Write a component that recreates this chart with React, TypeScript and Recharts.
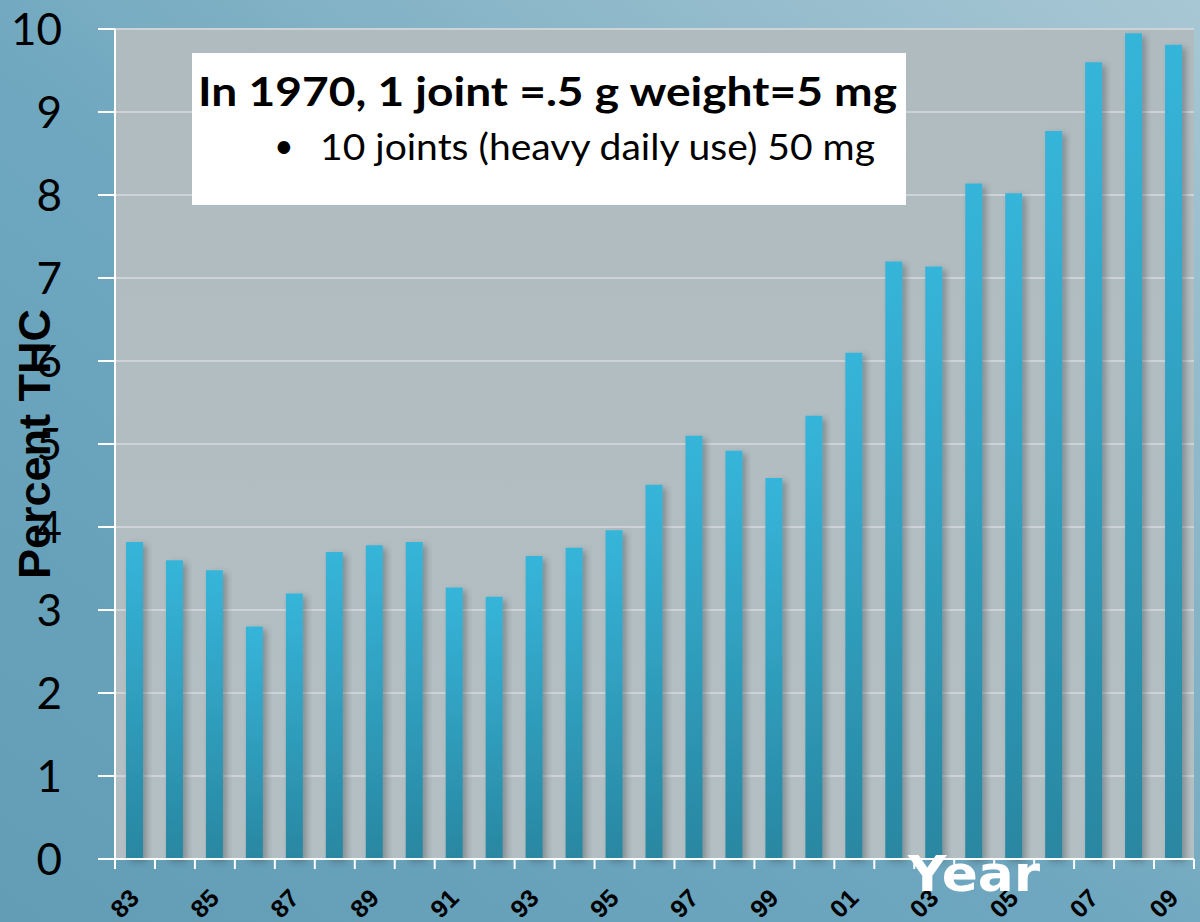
import React from "react"
import { BarChart, Bar, XAxis, YAxis, CartesianGrid, Label } from "recharts"

const years = ["83", "84", "85", "86", "87", "88", "89", "90", "91", "92", "93", "94", "95", "96", "97", "98", "99", "00", "01", "02", "03", "04", "05", "06", "07", "08", "09"]
const thc = [3.82, 3.6, 3.48, 2.8, 3.2, 3.7, 3.78, 3.82, 3.27, 3.16, 3.65, 3.75, 3.96, 4.51, 5.1, 4.92, 4.59, 5.34, 6.1, 7.2, 7.14, 8.14, 8.02, 8.77, 9.6, 9.95, 9.81]
const yTicks = [0, 1, 2, 3, 4, 5, 6, 7, 8, 9, 10]
const noteTitle = "In 1970, 1 joint =.5 g weight=5 mg"
const noteLine = "10 joints (heavy daily use) 50 mg"

const data = years.map((year, i) => ({ year, thc: thc[i] }))

const W = 1200
const H = 922
const LEFT = 115
const RIGHT = 6
const TOP = 29
const BOTTOM = 63
const band = (W - LEFT - RIGHT) / years.length

function YearTick(props: any) {
  const { x, y, payload } = props
  const i = years.indexOf(payload.value)
  const lx = x - band / 2
  const ax = x - 7
  const ay = y + 28
  return (
    <g>
      <line x1={lx} y1={y} x2={lx} y2={y + 10} stroke="#fff" strokeWidth={2} />
      {i === years.length - 1 && (
        <line x1={x + band / 2} y1={y} x2={x + band / 2} y2={y + 10} stroke="#fff" strokeWidth={2} />
      )}
      {i % 2 === 0 && (
        <text
          x={ax}
          y={ay}
          textAnchor="end"
          dy="0.72em"
          transform={`rotate(-45, ${ax}, ${ay})`}
          fontFamily="Liberation Sans, Arial"
          fontWeight="bold"
          fontSize={25}
          fill="#000"
        >
          {payload.value}
        </text>
      )}
    </g>
  )
}

function YTitle(props: any) {
  const { viewBox } = props
  const cy = viewBox.y + viewBox.height / 2
  return (
    <text
      x={50}
      y={cy}
      transform={`rotate(-90, 50, ${cy})`}
      textAnchor="middle"
      fontFamily="Liberation Sans, Arial"
      fontWeight="bold"
      fontSize={45}
      fill="#000"
    >
      Percent THC
    </text>
  )
}

export default function App() {
  return (
    <div
      style={{
        position: "relative",
        width: W,
        height: H,
        background: "linear-gradient(to top right, #629db5 0%, #6ea7bf 45%, #8fb9ca 75%, #a8c7d4 100%)",
      }}
    >
      <style>{`body{margin:0}`}</style>
      <BarChart width={W} height={H} data={data} margin={{ top: TOP, right: RIGHT, bottom: 0, left: 0 }} barSize={17}>
        <defs>
          <linearGradient id="plotBg" x1="0" y1="0" x2="0" y2="1">
            <stop offset="0%" stopColor="#b0bbc0" />
            <stop offset="100%" stopColor="#b4bfc3" />
          </linearGradient>
          <linearGradient id="barFill" x1="0" y1="0" x2="0" y2="1">
            <stop offset="0%" stopColor="#36b5da" />
            <stop offset="100%" stopColor="#2987a1" />
          </linearGradient>
          <filter id="barShadow" x="-50%" y="-10%" width="200%" height="120%">
            <feDropShadow dx={4} dy={3} stdDeviation={3} floodColor="#3a4448" floodOpacity={0.4} />
          </filter>
        </defs>
        <CartesianGrid vertical={false} fill="url(#plotBg)" stroke="#cdd3d6" strokeWidth={2} />
        <XAxis
          dataKey="year"
          height={BOTTOM}
          interval={0}
          tickLine={false}
          tickSize={0}
          tickMargin={0}
          axisLine={{ stroke: "#fff", strokeWidth: 2 }}
          tick={<YearTick />}
        />
        <YAxis
          width={LEFT}
          domain={[0, 10]}
          ticks={yTicks}
          interval={0}
          tickSize={17}
          tickMargin={36}
          tickLine={{ stroke: "#fff", strokeWidth: 2 }}
          axisLine={{ stroke: "#fff", strokeWidth: 2 }}
          tick={{ fontSize: 44, fill: "#000", fontFamily: "Lato" }}
        >
          <Label content={<YTitle />} />
        </YAxis>
        <Bar dataKey="thc" fill="url(#barFill)" filter="url(#barShadow)" isAnimationActive={false} />
      </BarChart>
      <svg width={W} height={H} style={{ position: "absolute", left: 0, top: 0, pointerEvents: "none" }}>
        <rect x={192} y={53} width={714} height={152} fill="#fff" />
        <text x={198} y={106} fontFamily="Lato" fontWeight="bold" fontSize={41} fill="#000" textLength={699} lengthAdjust="spacingAndGlyphs">
          {noteTitle}
        </text>
        <text x={274} y={158} fontFamily="Lato" fontSize={34} fill="#000">
          •
        </text>
        <text x={320} y={160} fontFamily="Lato" fontSize={36} fill="#000" textLength={555} lengthAdjust="spacingAndGlyphs">
          {noteLine}
        </text>
        <text x={974} y={891} textAnchor="middle" fontFamily="DejaVu Sans" fontWeight="bold" fontSize={50} fill="#fff" textLength={132} lengthAdjust="spacingAndGlyphs">
          Year
        </text>
      </svg>
    </div>
  )
}
